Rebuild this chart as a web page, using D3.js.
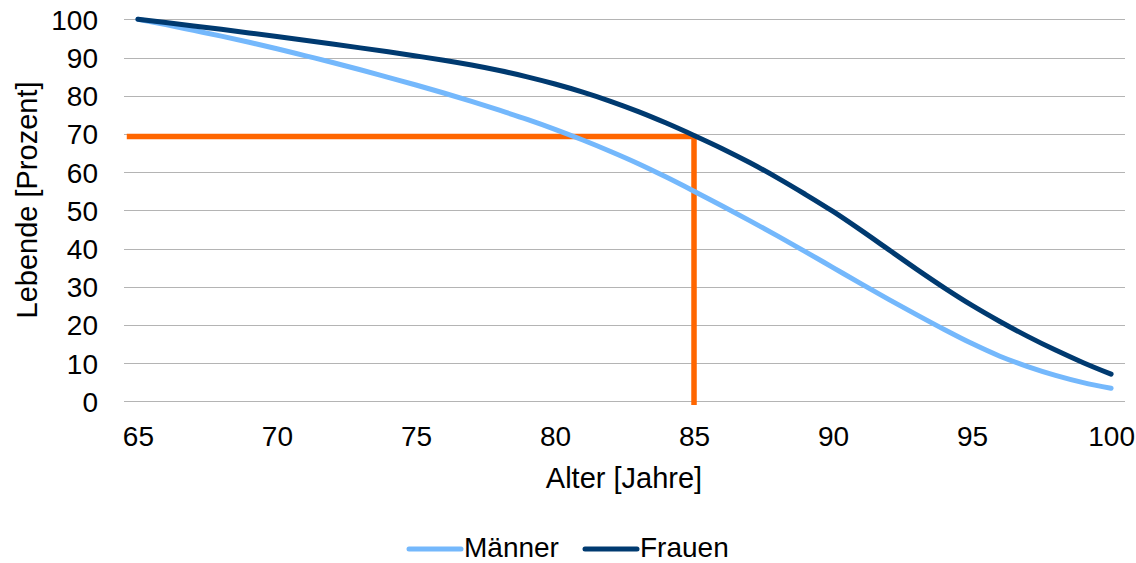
<!DOCTYPE html>
<html><head><meta charset="utf-8">
<script src="https://cdn.jsdelivr.net/npm/d3@7"></script>
<style>body{margin:0;background:#fff}svg{display:block}text{font-family:Arial,"Liberation Sans",sans-serif;fill:#000}</style>
</head><body><svg id="c" width="1136" height="563"></svg>
<script>
const years = d3.range(65, 101);
const maenner = [100,98.6,97.1,95.6,94.0,92.3,90.5,88.7,86.8,84.8,82.8,80.7,78.5,76.2,73.8,71.2,68.4,65.4,62.2,58.7,55.0,51.2,47.3,43.3,39.2,35.0,30.8,26.7,22.7,18.8,15.1,11.8,9.1,6.8,4.9,3.4];
const frauen = [100,99.15,98.27,97.37,96.44,95.49,94.52,93.53,92.52,91.48,90.4,89.28,88.02,86.58,84.94,83.06,80.94,78.54,75.84,72.84,69.6,66.2,62.5,58.5,54.2,49.7,44.8,39.7,34.6,29.7,25.1,20.9,17.0,13.4,10.1,7.1];
const markerX = [64.6, 85, 85];
const markerY = [69.3, 69.3, -1];
const yTicks = [0,10,20,30,40,50,60,70,80,90,100];
const xTicks = [65,70,75,80,85,90,95,100];
const seriesNames = ["Männer","Frauen"];
const colors = {"Männer":"#74B8FC","Frauen":"#003A70"};

const svg = d3.select("#c");
const x = d3.scaleLinear().domain([64.5, 100.5]).range([124, 1125]);
const y = d3.scaleLinear().domain([0, 100]).range([401.3, 19.3]);
const FS = "28px", FS2 = "29px";

// grid
svg.append("g").selectAll("line").data(yTicks).join("line")
  .attr("x1", 124).attr("x2", 1125)
  .attr("y1", d => Math.round(y(d)) + 0.5).attr("y2", d => Math.round(y(d)) + 0.5)
  .attr("stroke", "#b4b4b4").attr("stroke-width", 1);

// y axis labels
const yAxis = d3.axisLeft(y).tickValues(yTicks).tickSize(0).tickPadding(0);
const gy = svg.append("g").attr("transform", "translate(98,0)").call(yAxis);
gy.select(".domain").remove();
gy.selectAll("text").style("font-size", FS).attr("font-family", "Arial, 'Liberation Sans', sans-serif").attr("dy", "0.36em").attr("fill", "#000");

// x axis labels
const xAxis = d3.axisBottom(x).tickValues(xTicks).tickSize(0).tickPadding(0);
const gx = svg.append("g").attr("transform", "translate(0,426)").call(xAxis);
gx.select(".domain").remove();
gx.selectAll("text").style("font-size", FS).attr("font-family", "Arial, 'Liberation Sans', sans-serif").attr("dy", "0.71em").attr("fill", "#000");

// axis titles
svg.append("text").attr("x", 624).attr("y", 488).attr("text-anchor", "middle")
  .style("font-size", FS2).text("Alter [Jahre]");
svg.append("text").attr("transform", "translate(27,200) rotate(-90)").attr("text-anchor", "middle").attr("dominant-baseline", "central")
  .style("font-size", FS2).text("Lebende [Prozent]");

// marker (orange)
const mk = markerX.map((v, i) => [v, markerY[i]]);
svg.append("path").datum(mk)
  .attr("d", d3.line().x(d => x(d[0])).y(d => y(d[1])))
  .attr("fill", "none").attr("stroke", "#FF6600").attr("stroke-width", 5.5).attr("stroke-linejoin", "miter");

// series
const line = d3.line().x((d, i) => x(years[i])).y(d => y(d)).curve(d3.curveMonotoneX);
[["Männer", maenner], ["Frauen", frauen]].forEach(([name, vals]) => {
  svg.append("path").datum(vals).attr("d", line)
    .attr("fill", "none").attr("stroke", colors[name]).attr("stroke-width", 5)
    .attr("stroke-linecap", "round").attr("stroke-linejoin", "round");
});

// legend
const leg = svg.append("g");
const legPos = [{x1: 409, x2: 461, tx: 464}, {x1: 585, x2: 637, tx: 640}];
seriesNames.forEach((n, i) => {
  const p = legPos[i];
  leg.append("line").attr("x1", p.x1).attr("x2", p.x2).attr("y1", 549).attr("y2", 549)
    .attr("stroke", colors[n]).attr("stroke-width", 5).attr("stroke-linecap", "round");
  leg.append("text").attr("x", p.tx).attr("y", 557)
    .style("font-size", "28px").text(n);
});
</script></body></html>
